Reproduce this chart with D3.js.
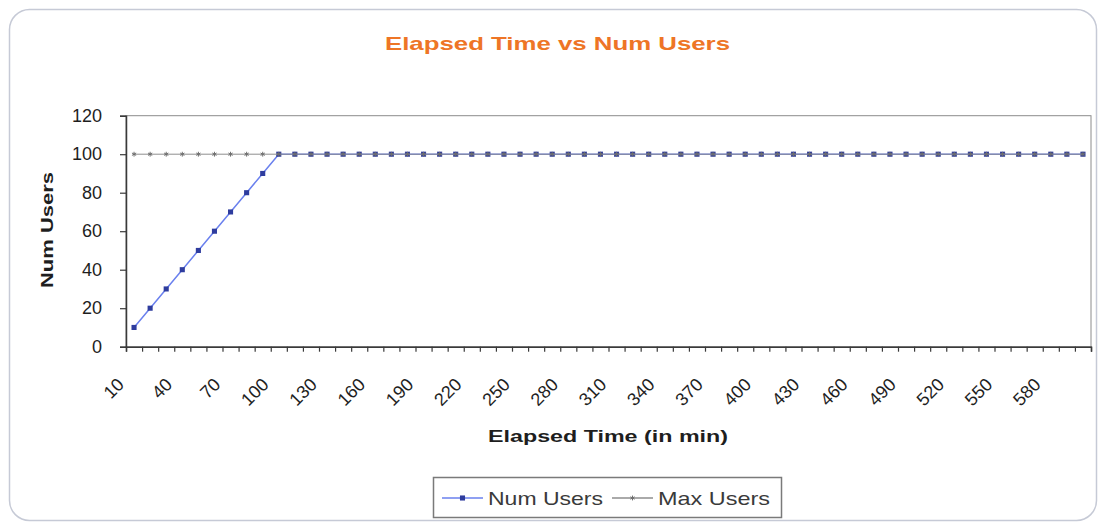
<!DOCTYPE html>
<html>
<head>
<meta charset="utf-8">
<script src="https://cdn.jsdelivr.net/npm/d3@7"></script>
<style>
  html, body { margin: 0; padding: 0; background: #ffffff; }
  svg { display: block; font-family: "Liberation Sans", Arial, sans-serif; }
</style>
</head>
<body>
<svg id="chart" width="1101" height="523"></svg>
<script>
// Elapsed time categories (minutes)
const elapsedMinutes = [
  10, 20, 30, 40, 50, 60, 70, 80, 90, 100,
  110, 120, 130, 140, 150, 160, 170, 180, 190, 200,
  210, 220, 230, 240, 250, 260, 270, 280, 290, 300,
  310, 320, 330, 340, 350, 360, 370, 380, 390, 400,
  410, 420, 430, 440, 450, 460, 470, 480, 490, 500,
  510, 520, 530, 540, 550, 560, 570, 580, 590, 600
];

// Active users at each time step (ramp-up, then steady)
const numUsers = [
  10, 20, 30, 40, 50, 60, 70, 80, 90, 100,
  100, 100, 100, 100, 100, 100, 100, 100, 100, 100,
  100, 100, 100, 100, 100, 100, 100, 100, 100, 100,
  100, 100, 100, 100, 100, 100, 100, 100, 100, 100,
  100, 100, 100, 100, 100, 100, 100, 100, 100, 100,
  100, 100, 100, 100, 100, 100, 100, 100, 100, 100
];

// Configured user ceiling
const maxUsers = [
  100, 100, 100, 100, 100, 100, 100, 100, 100, 100,
  100, 100, 100, 100, 100, 100, 100, 100, 100, 100,
  100, 100, 100, 100, 100, 100, 100, 100, 100, 100,
  100, 100, 100, 100, 100, 100, 100, 100, 100, 100,
  100, 100, 100, 100, 100, 100, 100, 100, 100, 100,
  100, 100, 100, 100, 100, 100, 100, 100, 100, 100
];

const xTickLabels = [10, 40, 70, 100, 130, 160, 190, 220, 250, 280,
                     310, 340, 370, 400, 430, 460, 490, 520, 550, 580];
const yTickValues = [0, 20, 40, 60, 80, 100, 120];

const seriesNames = ["Num Users", "Max Users"];

// ---- layout ----
const plot = { left: 126, right: 1091, top: 115.7, bottom: 346.7 };
const colors = {
  title: "#ee7526",
  numLine: "#6a80ee",
  numMarker: "#2e3c9e",
  maxLine: "#8e8e8e",
  maxMarker: "#6e6e6e",
  axis: "#3a3a3a",
  frame: "#8c8c8c",
  text: "#1e1e1e"
};

const svg = d3.select("#chart");

// outer rounded chart frame
svg.append("rect")
  .attr("x", 9.5).attr("y", 9.5)
  .attr("width", 1087).attr("height", 511)
  .attr("rx", 20).attr("ry", 20)
  .attr("fill", "#ffffff")
  .attr("stroke", "#c6cad6")
  .attr("stroke-width", 1.5);

// scales
const x = d3.scaleBand()
  .domain(elapsedMinutes)
  .range([plot.left, plot.right])
  .paddingInner(0).paddingOuter(0);
const xEdge = d3.scaleLinear()
  .domain([0, elapsedMinutes.length])
  .range([plot.left, plot.right]);
const y = d3.scaleLinear()
  .domain([0, 120])
  .range([plot.bottom, plot.top]);
const cx = d => x(d) + x.bandwidth() / 2;

// title
svg.append("text")
  .attr("x", 385).attr("y", 50)
  .attr("font-size", 19).attr("font-weight", "bold")
  .attr("fill", colors.title)
  .attr("textLength", 345).attr("lengthAdjust", "spacingAndGlyphs")
  .text("Elapsed Time vs Num Users");

// plot area frame
svg.append("rect")
  .attr("x", plot.left).attr("y", plot.top)
  .attr("width", plot.right - plot.left)
  .attr("height", plot.bottom - plot.top)
  .attr("fill", "#ffffff")
  .attr("stroke", colors.frame)
  .attr("stroke-width", 1);

// y axis
const yAxis = svg.append("g")
  .attr("transform", `translate(${plot.left},0)`)
  .call(d3.axisLeft(y).tickValues(yTickValues).tickSize(6).tickPadding(18));
yAxis.select(".domain").attr("stroke", colors.axis).attr("stroke-width", 1.5);
yAxis.selectAll(".tick line").attr("stroke", colors.axis).attr("stroke-width", 1.2);
yAxis.selectAll(".tick text")
  .attr("font-size", 18)
  .attr("font-family", "\"Liberation Sans\", Arial, sans-serif")
  .attr("fill", colors.text);

// x axis: tick marks between categories
const xTicks = svg.append("g")
  .attr("transform", `translate(0,${plot.bottom})`)
  .call(d3.axisBottom(xEdge).ticks(elapsedMinutes.length).tickFormat("").tickSize(5));
xTicks.select(".domain").attr("stroke", colors.axis).attr("stroke-width", 1.5);
xTicks.selectAll(".tick line").attr("stroke", colors.axis).attr("stroke-width", 1.2);

// x axis: rotated category labels
const xLabels = svg.append("g")
  .attr("transform", `translate(0,${plot.bottom})`)
  .call(d3.axisBottom(x).tickValues(xTickLabels).tickSize(0));
xLabels.select(".domain").remove();
xLabels.selectAll(".tick text")
  .attr("x", 0).attr("y", 0).attr("dy", null)
  .attr("text-anchor", "end")
  .attr("transform", "translate(-9,39) rotate(-45)")
  .attr("font-size", 18)
  .attr("font-family", "\"Liberation Sans\", Arial, sans-serif")
  .attr("fill", colors.text);

// axis titles
svg.append("text")
  .attr("x", 488).attr("y", 442)
  .attr("font-size", 17).attr("font-weight", "bold")
  .attr("fill", colors.text)
  .attr("textLength", 240).attr("lengthAdjust", "spacingAndGlyphs")
  .text("Elapsed Time (in min)");

svg.append("text")
  .attr("transform", "translate(52.5,288) rotate(-90)")
  .attr("font-size", 17).attr("font-weight", "bold")
  .attr("fill", colors.text)
  .attr("textLength", 116).attr("lengthAdjust", "spacingAndGlyphs")
  .text("Num Users");

// series
const line = d3.line()
  .x((d, i) => cx(elapsedMinutes[i]))
  .y(d => y(d));

const asterisk = d3.symbolAsterisk || d3.symbolCross;

// Num Users
svg.append("path")
  .datum(numUsers)
  .attr("d", line)
  .attr("fill", "none")
  .attr("stroke", colors.numLine)
  .attr("stroke-width", 1.5);
svg.append("g").selectAll("path")
  .data(numUsers)
  .join("path")
  .attr("transform", (d, i) => `translate(${cx(elapsedMinutes[i])},${y(d)})`)
  .attr("d", d3.symbol().type(d3.symbolSquare).size(26))
  .attr("fill", colors.numMarker);

// Max Users
svg.append("path")
  .datum(maxUsers)
  .attr("d", line)
  .attr("fill", "none")
  .attr("stroke", colors.maxLine)
  .attr("stroke-width", 1);
svg.append("g").selectAll("path")
  .data(maxUsers)
  .join("path")
  .attr("transform", (d, i) => `translate(${cx(elapsedMinutes[i])},${y(d)})`)
  .attr("d", d3.symbol().type(asterisk).size(16))
  .attr("fill", "none")
  .attr("stroke", colors.maxMarker)
  .attr("stroke-width", 1);

// legend
const legend = svg.append("g");
legend.append("rect")
  .attr("x", 433.5).attr("y", 477.5)
  .attr("width", 348).attr("height", 40)
  .attr("fill", "#ffffff")
  .attr("stroke", "#7a7a7a")
  .attr("stroke-width", 1.5);

const legendItems = [
  { name: seriesNames[0], x0: 442, x1: 483, tx: 488, tw: 115,
    lineColor: colors.numLine, marker: d3.symbolSquare, msize: 26,
    mfill: colors.numMarker, mstroke: "none" },
  { name: seriesNames[1], x0: 612, x1: 653, tx: 658, tw: 112,
    lineColor: colors.maxLine, marker: asterisk, msize: 16,
    mfill: "none", mstroke: colors.maxMarker }
];
const li = legend.selectAll("g.item").data(legendItems).join("g").attr("class", "item");
li.append("line")
  .attr("x1", d => d.x0).attr("x2", d => d.x1)
  .attr("y1", 498).attr("y2", 498)
  .attr("stroke", d => d.lineColor)
  .attr("stroke-width", 1.5);
li.append("path")
  .attr("transform", d => `translate(${(d.x0 + d.x1) / 2},498)`)
  .attr("d", d => d3.symbol().type(d.marker).size(d.msize)())
  .attr("fill", d => d.mfill)
  .attr("stroke", d => d.mstroke);
li.append("text")
  .attr("x", d => d.tx).attr("y", 505)
  .attr("font-size", 19)
  .attr("fill", "#3a3a3a")
  .attr("textLength", d => d.tw).attr("lengthAdjust", "spacingAndGlyphs")
  .text(d => d.name);
</script>
</body>
</html>
